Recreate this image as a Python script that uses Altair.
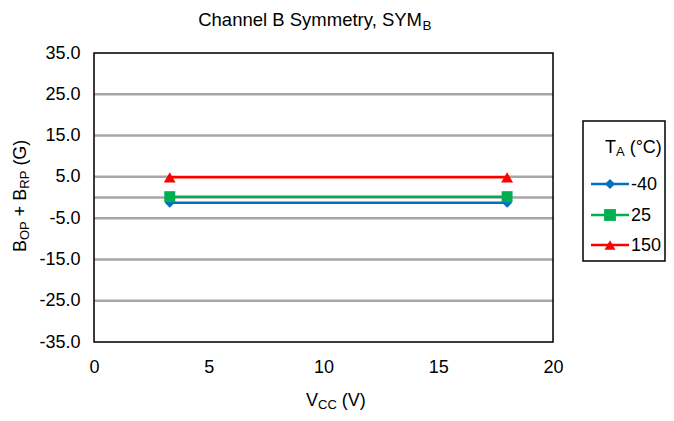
import altair as alt
import pandas as pd

# ---- data ----
vcc = [3.3, 18.0]
series = ["-40", "25", "150"]
sym_m40 = [-1.3, -1.3]
sym_25 = [0.2, 0.2]
sym_150 = [4.9, 4.9]
colors = ["#0070C0", "#00B050", "#FF0000"]
shapes = ["diamond", "square", "triangle-up"]
sizes = [100, 140, 120]
y_ticks = [-35, -25, -15, -5, 5, 15, 25, 35]
grid_vals = [-25, -15, -5, 0, 5, 15, 25]
x_ticks = [0, 5, 10, 15, 20]

FONT = "Liberation Sans"
W, H = 459, 289

ARIAL = {" ": 278, "(": 333, ")": 333, "+": 584, "B": 667, "O": 778, "P": 667,
         "R": 722, "G": 778, "C": 722, "V": 667, "T": 611, "A": 667, "°": 400}


def tw(s, size):
    return sum(ARIAL.get(c, 556) for c in s) * size / 1000.0


rows = []
for name, vals in zip(series, [sym_m40, sym_25, sym_150]):
    for x, v in zip(vcc, vals):
        rows.append({"vcc": x, "v": v, "T": name})
df = pd.DataFrame(rows)

one = pd.DataFrame({"a": [0]})

xscale = alt.Scale(domain=[0, 20], nice=False, zero=False)
yscale = alt.Scale(domain=[-35, 35], nice=False, zero=False)

xaxis = alt.Axis(values=x_ticks, title=None, ticks=False, domain=False,
                 grid=False, labelFontSize=18, labelFont=FONT,
                 labelColor="#000000", labelPadding=16, labelFlush=False)
yaxis = alt.Axis(values=y_ticks, title=None, ticks=False,
                 labelExpr="replace(format(datum.value, '.1f'), '\u2212', '-')",
                 domain=False, grid=False, labelFontSize=18, labelFont=FONT,
                 labelColor="#000000", labelPadding=14)

grid = alt.Chart(pd.DataFrame({"g": grid_vals})).mark_rule(
    color="#A6A6A6", strokeWidth=2.5
).encode(y=alt.Y("g:Q", scale=yscale, axis=yaxis))

base = alt.Chart(df)
lines = base.mark_line(strokeWidth=2.5).encode(
    x=alt.X("vcc:Q", scale=xscale, axis=xaxis),
    y=alt.Y("v:Q", scale=yscale, axis=yaxis),
    color=alt.Color("T:N", scale=alt.Scale(domain=series, range=colors), legend=None),
)
points = base.mark_point(filled=True, opacity=1).encode(
    x=alt.X("vcc:Q", scale=xscale, axis=xaxis),
    y=alt.Y("v:Q", scale=yscale, axis=yaxis),
    color=alt.Color("T:N", scale=alt.Scale(domain=series, range=colors), legend=None),
    shape=alt.Shape("T:N", scale=alt.Scale(domain=series, range=shapes), legend=None),
    size=alt.Size("T:N", scale=alt.Scale(domain=series, range=sizes), legend=None),
)

border = alt.Chart(one).mark_rect(fillOpacity=0, stroke="#000000", strokeWidth=1.5).encode(
    x=alt.value(0), x2=alt.value(W), y=alt.value(0), y2=alt.value(H)
)

layers = [grid, lines, points, border]

# chart title with subscript
tj = 328
layers.append(alt.Chart(one).mark_text(align="right", baseline="alphabetic", fontSize=18.5,
                                       font=FONT, color="#000000").encode(
    x=alt.value(tj), y=alt.value(-27), text=alt.value("Channel B Symmetry, SYM")))
layers.append(alt.Chart(one).mark_text(align="left", baseline="alphabetic", fontSize=13.5,
                                       font=FONT, color="#000000").encode(
    x=alt.value(tj + 0.5), y=alt.value(-23), text=alt.value("B")))

# x axis title: V_CC (V)
xt = [("V", 18, False), ("CC", 13, True), (" (V)", 18, False)]
cx = 212
for s, sz, sub in xt:
    lead = len(s) - len(s.lstrip(" "))
    layers.append(alt.Chart(one).mark_text(align="left", baseline="alphabetic", fontSize=sz,
                                           font=FONT, color="#000000").encode(
        x=alt.value(cx + tw(" " * lead, sz)), y=alt.value(356 if sub else 353),
        text=alt.value(s.strip(" "))))
    cx += tw(s, sz)

# y axis title: B_OP + B_RP (G)
yt = [("B", 18, False), ("OP", 13, True), (" + B", 18, False), ("RP", 13, True), (" (G)", 18, False)]
cy = 199
for s, sz, sub in yt:
    lead = len(s) - len(s.lstrip(" "))
    layers.append(alt.Chart(one).mark_text(align="left", baseline="alphabetic", fontSize=sz,
                                           font=FONT, color="#000000", angle=270).encode(
        x=alt.value(-65 if sub else -68), y=alt.value(cy - tw(" " * lead, sz)),
        text=alt.value(s.strip(" "))))
    cy -= tw(s, sz)

# legend box
layers.append(alt.Chart(one).mark_rect(fill="#FFFFFF", stroke="#000000", strokeWidth=1.5).encode(
    x=alt.value(489), x2=alt.value(571), y=alt.value(68), y2=alt.value(208)))

# legend title T_A (°C)
lt = [("T", 18, False), ("A", 13, True), (" (°C)", 18, False)]
lx = 511
for s, sz, sub in lt:
    lead = len(s) - len(s.lstrip(" "))
    layers.append(alt.Chart(one).mark_text(align="left", baseline="alphabetic", fontSize=sz,
                                           font=FONT, color="#000000").encode(
        x=alt.value(lx + tw(" " * lead, sz)), y=alt.value(103 if sub else 100),
        text=alt.value(s.strip(" "))))
    lx += tw(s, sz)

item_y = [131, 162, 192]
for name, c, shp, sz, yy in zip(series, colors, shapes, sizes, item_y):
    layers.append(alt.Chart(one).mark_rule(color=c, strokeWidth=2.5).encode(
        x=alt.value(497), x2=alt.value(535), y=alt.value(yy)))
    layers.append(alt.Chart(one).mark_point(shape=shp, filled=True, opacity=1, color=c,
                                            size=sz).encode(
        x=alt.value(516), y=alt.value(yy)))
    layers.append(alt.Chart(one).mark_text(align="left", baseline="middle", fontSize=18,
                                           font=FONT, color="#000000").encode(
        x=alt.value(537), y=alt.value(yy + 1), text=alt.value(name)))

chart = alt.layer(*layers).properties(
    width=W, height=H,
    autosize=alt.AutoSizeParams(type="none"),
    padding={"left": 86, "top": 45, "right": 113, "bottom": 70},
).configure_view(stroke=None).configure(background="#FFFFFF")

chart.save("out.html", embed_options={"renderer": "svg", "actions": False})
